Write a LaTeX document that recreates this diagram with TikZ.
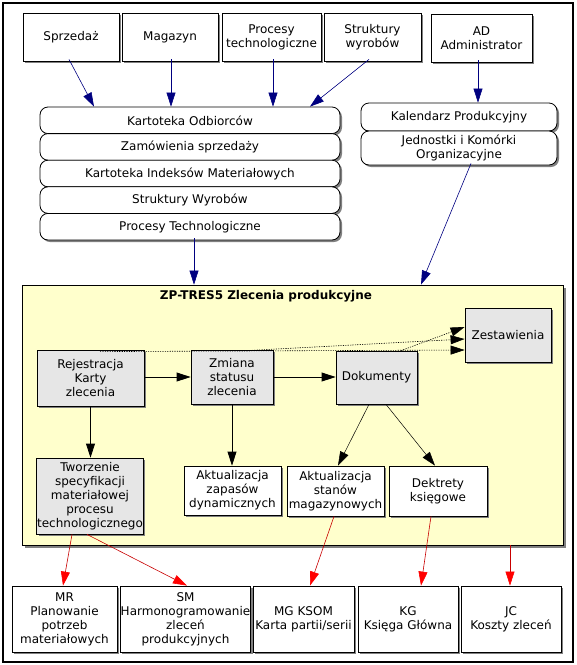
\documentclass[tikz,border=0pt]{standalone}
\usepackage{fontspec}
\setmainfont{DejaVu Sans}
\usetikzlibrary{arrows.meta,shadows,calc}
\definecolor{navyc}{HTML}{000080}
\definecolor{yel}{HTML}{FFFFCC}
\definecolor{boxgray}{HTML}{E6E6E6}
\definecolor{shad}{HTML}{808080}
\definecolor{redline}{HTML}{C80000}
\begin{document}
\begin{tikzpicture}[x=1pt,y=-1pt,
  font=\fontsize{12}{14}\selectfont,
  shad/.style={drop shadow={shadow xshift=2pt, shadow yshift=-2pt, fill=shad, opacity=1}},
  box/.style={draw, line width=0.8pt, fill=white, align=center, inner sep=0.5pt, shad},
  gbox/.style={box, fill=boxgray},
  rbox/.style={box, rounded corners=8pt},
  bluearrow/.style={-{Triangle[length=14pt,width=9pt]}, draw=navyc, line width=0.6pt},
  blackarrow/.style={-{Triangle[length=14pt,width=9pt]}, draw=black, line width=0.8pt},
  thinarrow/.style={-{Triangle[length=14pt,width=9pt]}, draw=black, line width=0.5pt},
  dotarrow/.style={-{Triangle[length=14pt,width=9pt,color=black]}, draw=black, line width=0.6pt, dash pattern=on 1.2pt off 1.2pt},
  redarrow/.style={-{Triangle[length=14pt,width=9pt,color=red]}, draw=redline, line width=0.6pt}
]
\path[use as bounding box] (0,0) rectangle (577,665);
\draw[line width=1.2pt] (3,3) rectangle (573,662);

% top boxes
\node[box, minimum width=96pt, minimum height=48pt] (sp) at (71,37) {Sprzedaż};
\node[box, minimum width=96pt, minimum height=48pt] (mag) at (170,37) {Magazyn};
\node[box, minimum width=99pt, minimum height=48pt] (proc) at (271.5,37) {Procesy\\technologiczne};
\node[box, minimum width=97pt, minimum height=48pt] (str) at (372.5,37) {Struktury\\wyrobów};
\node[box, minimum width=101pt, minimum height=48pt] (ad) at (481.5,38) {AD\\Administrator};

% left stack
\node[rbox, minimum width=300pt, minimum height=26.6pt] (ko) at (190,120.3) {Kartoteka Odbiorców};
\node[rbox, minimum width=300pt, minimum height=26.6pt] (zs) at (190,146.9) {Zamówienia sprzedaży};
\node[rbox, minimum width=300pt, minimum height=26.6pt] (ki) at (190,173.5) {Kartoteka Indeksów Materiałowych};
\node[rbox, minimum width=300pt, minimum height=26.6pt] (sw) at (190,200.1) {Struktury Wyrobów};
\node[rbox, minimum width=300pt, minimum height=26.6pt] (pt) at (190,226.7) {Procesy Technologiczne};

% right stack
\node[rbox, minimum width=196pt, minimum height=28pt] (kp) at (459,117) {Kalendarz Produkcyjny};
\node[rbox, minimum width=196pt, minimum height=34pt] (jk) at (459,148) {Jednostki i Komórki\\Organizacyjne};

% yellow module
\node[draw, line width=0.8pt, fill=yel, minimum width=541pt, minimum height=260pt, drop shadow={shadow xshift=3pt, shadow yshift=-3pt, fill=shad, opacity=1}] (zp) at (292.5,415) {};
\node[font=\fontsize{12}{14}\selectfont\bfseries] (ttl) at (266,296) {ZP-TRES5 Zlecenia produkcyjne};

\node[gbox, minimum width=107pt, minimum height=56pt] (rej) at (90.5,378) {Rejestracja\\Karty\\zlecenia};
\node[gbox, minimum width=82pt, minimum height=54pt] (zmi) at (232,377) {Zmiana\\statusu\\zlecenia};
\node[gbox, minimum width=81pt, minimum height=53pt] (dok) at (376.5,377.5) {Dokumenty};
\node[gbox, minimum width=86pt, minimum height=54pt] (zes) at (508,335) {Zestawienia};
\node[gbox, minimum width=106pt, minimum height=76pt] (twz) at (90,496) {Tworzenie\\specyfikacji\\materiałowej\\procesu\\technologicznego};
\node[box, minimum width=97pt, minimum height=49pt] (azd) at (232.5,490.5) {Aktualizacja\\zapasów\\dynamicznych};
\node[box, minimum width=97pt, minimum height=50pt] (ast) at (335.5,491) {Aktualizacja\\stanów\\magazynowych};
\node[box, minimum width=98pt, minimum height=50pt] (dek) at (438,491) {Dektrety\\księgowe};

% bottom boxes
\node[box, minimum width=105pt, minimum height=66pt] (mr) at (64.5,619) {MR\\Planowanie\\potrzeb\\materiałowych};
\node[box, minimum width=129pt, minimum height=66pt] (sm) at (185.5,619) {SM\\Harmonogramowanie\\zleceń\\produkcyjnych};
\node[box, minimum width=101pt, minimum height=66pt] (mg) at (303.5,619) {MG KSOM\\Karta partii/serii};
\node[box, minimum width=100pt, minimum height=66pt] (kg) at (408,619) {KG\\Księga Główna};
\node[box, minimum width=100pt, minimum height=66pt] (jc) at (511,619) {JC\\Koszty zleceń};

% blue connectors
\draw[bluearrow] ([xshift=-2pt,yshift=2pt]sp.south) -- ([xshift=-96pt]ko.north);
\draw[bluearrow] ([xshift=1pt,yshift=2pt]mag.south) -- ([xshift=1pt]mag.south |- ko.north);
\draw[bluearrow] ([xshift=1.5pt,yshift=2pt]proc.south) -- ([xshift=1.5pt]proc.south |- ko.north);
\draw[bluearrow] ([xshift=-3.5pt,yshift=2pt]str.south) -- ([xshift=120pt]ko.north);
\draw[bluearrow] ([xshift=-3.5pt,yshift=2pt]ad.south) -- ([xshift=-3.5pt]ad.south |- kp.north);
\draw[bluearrow] ([xshift=12pt,yshift=2pt]jk.south) -- ([xshift=128.5pt]zp.north);
\draw[bluearrow] ([xshift=4pt,yshift=2pt]pt.south) -- ([xshift=4pt]pt.south |- zp.north);

% black connectors
\draw[blackarrow] (rej.east |- zmi.west) -- (zmi.west);
\draw[blackarrow] (zmi.east) -- (zmi.east -| dok.west);
\draw[blackarrow] (rej.south) -- (rej.south |- twz.north);
\draw[blackarrow] (zmi.south) -- (zmi.south |- azd.north);
\draw[thinarrow] ([xshift=-7.5pt]dok.south) -- ([xshift=2.5pt]ast.north);
\draw[thinarrow] ([xshift=9.5pt]dok.south) -- ([xshift=-3pt]dek.north);

% dotted connectors
\draw[dotarrow] ([xshift=9.5pt,yshift=-2pt]rej.north) -- ([yshift=-15pt]zes.west);
\draw[dotarrow] ([xshift=15pt,yshift=-1pt]zmi.north) -- ([yshift=-4pt]zes.west);
\draw[dotarrow] ([xshift=24.5pt]dok.north) -- ([yshift=8pt]zes.west);

% red connectors
\draw[redarrow] ([xshift=-18pt]twz.south) -- ([xshift=-1.5pt]mr.north);
\draw[redarrow] ([xshift=-3pt]twz.south) -- ([xshift=1.5pt]sm.north);
\draw[redarrow] ([xshift=-1.5pt]ast.south) -- ([xshift=6.5pt]mg.north);
\draw[redarrow] ([xshift=-7pt]dek.south) -- ([xshift=13pt]kg.north);
\draw[redarrow] ([xshift=-1pt]jc.north |- zp.south) -- ([xshift=-1pt]jc.north);
\end{tikzpicture}
\end{document}
